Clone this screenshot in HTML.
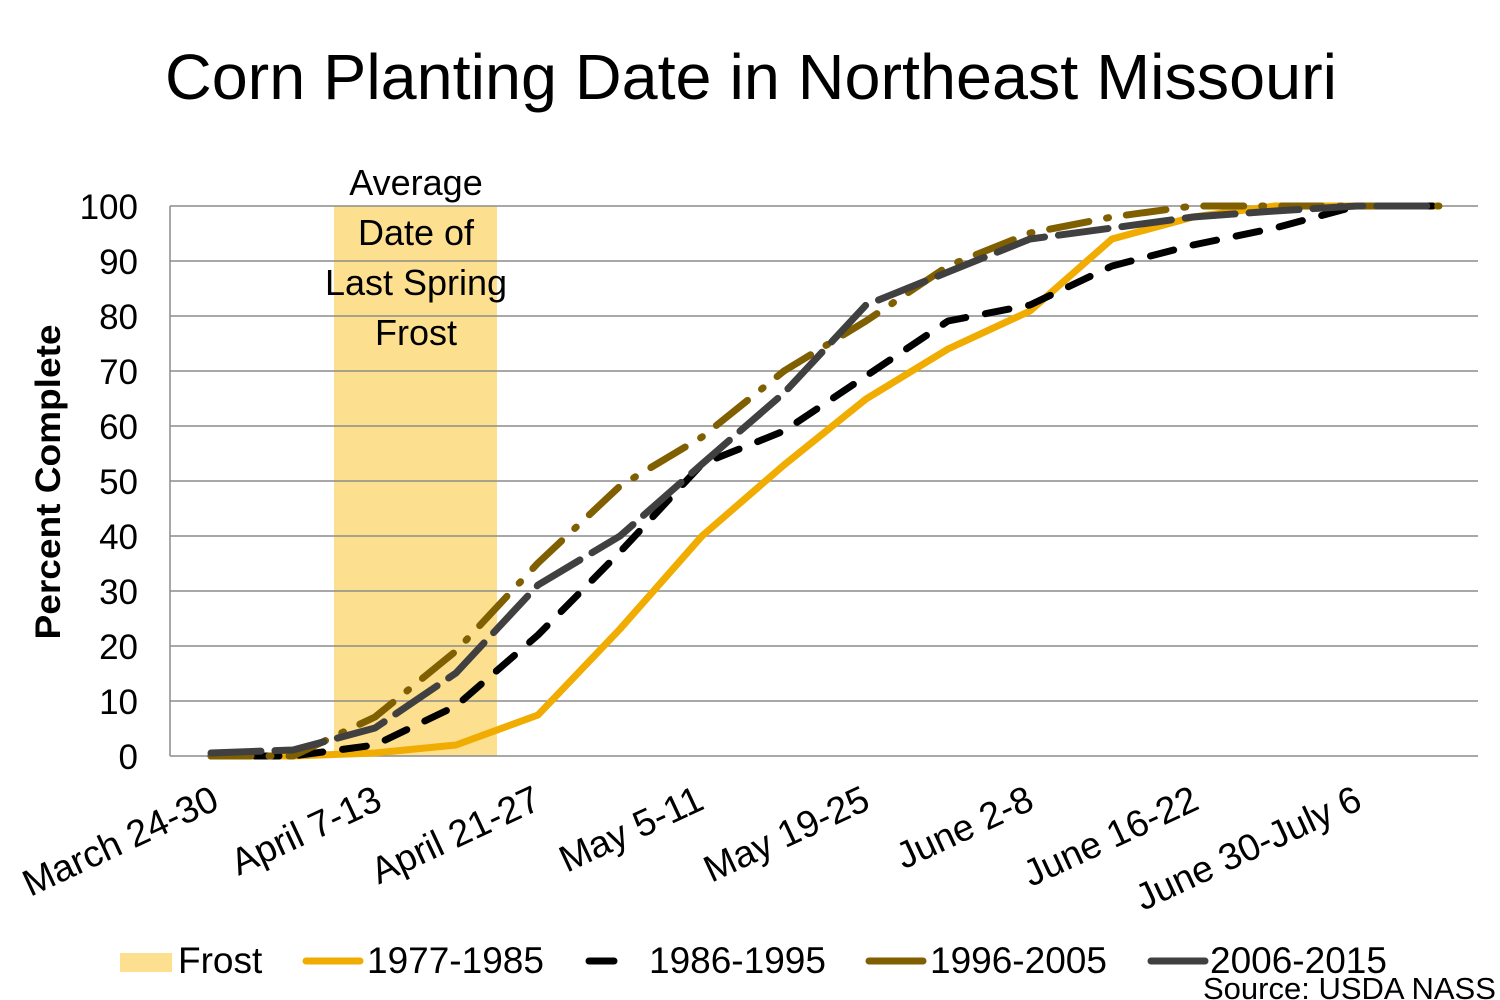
<!DOCTYPE html>
<html><head><meta charset="utf-8"><style>
body{margin:0;background:#fff;}
svg{display:block;}
text{font-family:"Liberation Sans",Arial,sans-serif;}
</style></head><body>
<svg width="1500" height="1000" viewBox="0 0 1500 1000">
<rect width="1500" height="1000" fill="#fff"/>
<text x="751" y="99" font-size="64" text-anchor="middle" fill="#000" textLength="1172" lengthAdjust="spacingAndGlyphs">Corn Planting Date in Northeast Missouri</text>
<rect x="334" y="206" width="163" height="550" fill="#FDE08F"/>
<g stroke="#8c8c8c" stroke-width="1.5">
<line x1="170" y1="206" x2="1478" y2="206"/>
<line x1="170" y1="261" x2="1478" y2="261"/>
<line x1="170" y1="316" x2="1478" y2="316"/>
<line x1="170" y1="371" x2="1478" y2="371"/>
<line x1="170" y1="426" x2="1478" y2="426"/>
<line x1="170" y1="481" x2="1478" y2="481"/>
<line x1="170" y1="536" x2="1478" y2="536"/>
<line x1="170" y1="591" x2="1478" y2="591"/>
<line x1="170" y1="646" x2="1478" y2="646"/>
<line x1="170" y1="701" x2="1478" y2="701"/>
<line x1="170" y1="756" x2="1478" y2="756"/>
<line x1="170" y1="206" x2="170" y2="756"/>
</g>
<g font-size="35" text-anchor="end" fill="#000">
<text x="138" y="219">100</text><text x="138" y="274">90</text><text x="138" y="329">80</text>
<text x="138" y="384">70</text><text x="138" y="439">60</text><text x="138" y="494">50</text>
<text x="138" y="549">40</text><text x="138" y="604">30</text><text x="138" y="659">20</text>
<text x="138" y="714">10</text><text x="138" y="769">0</text>
</g>
<text transform="translate(60,482) rotate(-90)" font-size="35" font-weight="bold" text-anchor="middle" textLength="315" lengthAdjust="spacingAndGlyphs">Percent Complete</text>
<g font-size="36" text-anchor="middle" fill="#000">
<text x="416" y="195">Average</text><text x="416" y="245">Date of</text>
<text x="416" y="295">Last Spring</text><text x="416" y="345">Frost</text>
</g>
<g font-size="37.5" text-anchor="end" fill="#000">
<text transform="translate(221,808) rotate(-25)">March 24-30</text>
<text transform="translate(384,808) rotate(-25)">April 7-13</text>
<text transform="translate(543,808) rotate(-25)">April 21-27</text>
<text transform="translate(706,808) rotate(-25)">May 5-11</text>
<text transform="translate(872,808) rotate(-25)">May 19-25</text>
<text transform="translate(1036,808) rotate(-25)">June 2-8</text>
<text transform="translate(1201,808) rotate(-25)">June 16-22</text>
<text transform="translate(1364,808) rotate(-25)">June 30-July 6</text>
</g>
<g fill="none" stroke-width="7" stroke-linejoin="round">
<polyline stroke="#F0AC00" points="211,756 293,756 375,753 456,745 538,715 620,629 702,536 784,465 866,399 948,349 1030,311 1112,239 1193,217 1275,206 1357,206 1439,206"/>
<polyline stroke="#000" stroke-dasharray="24,20" stroke-linecap="round" points="211,756 293,756 375,745 456,706 538,635 620,552 702,464 784,431 866,376 948,321 1030,305 1112,266 1193,245 1275,228 1357,206 1439,206"/>
<polyline stroke="#7F5F00" stroke-dasharray="40,18,2,18" stroke-linecap="round" points="211,756 293,756 375,717 456,651 538,563 620,486 702,437 784,371 866,321 948,266 1030,233 1112,217 1193,206 1275,206 1357,206 1439,206"/>
<polyline stroke="#404040" stroke-dasharray="50,14" stroke-linecap="round" points="211,753 293,750 375,728 456,673 538,585 620,536 702,464 784,393 866,305 948,272 1030,239 1112,228 1193,217 1275,211 1357,206 1439,206"/>
</g>
<rect x="120" y="953" width="52" height="19" fill="#FDE08F"/>
<line x1="306" y1="961" x2="360" y2="961" stroke="#F0AC00" stroke-width="7" stroke-linecap="round"/>
<line x1="589" y1="961" x2="614" y2="961" stroke="#000" stroke-width="7" stroke-linecap="round"/>
<line x1="869" y1="961" x2="923" y2="961" stroke="#7F5F00" stroke-width="7" stroke-linecap="round"/>
<line x1="1151" y1="961" x2="1205" y2="961" stroke="#404040" stroke-width="7" stroke-linecap="round"/>
<g font-size="37" fill="#000">
<text x="178" y="973">Frost</text>
<text x="367" y="973">1977-1985</text>
<text x="649" y="973">1986-1995</text>
<text x="930" y="973">1996-2005</text>
<text x="1210" y="973">2006-2015</text>
</g>
<text x="1203" y="999" font-size="31" fill="#000">Source: USDA NASS</text>
</svg>
</body></html>
